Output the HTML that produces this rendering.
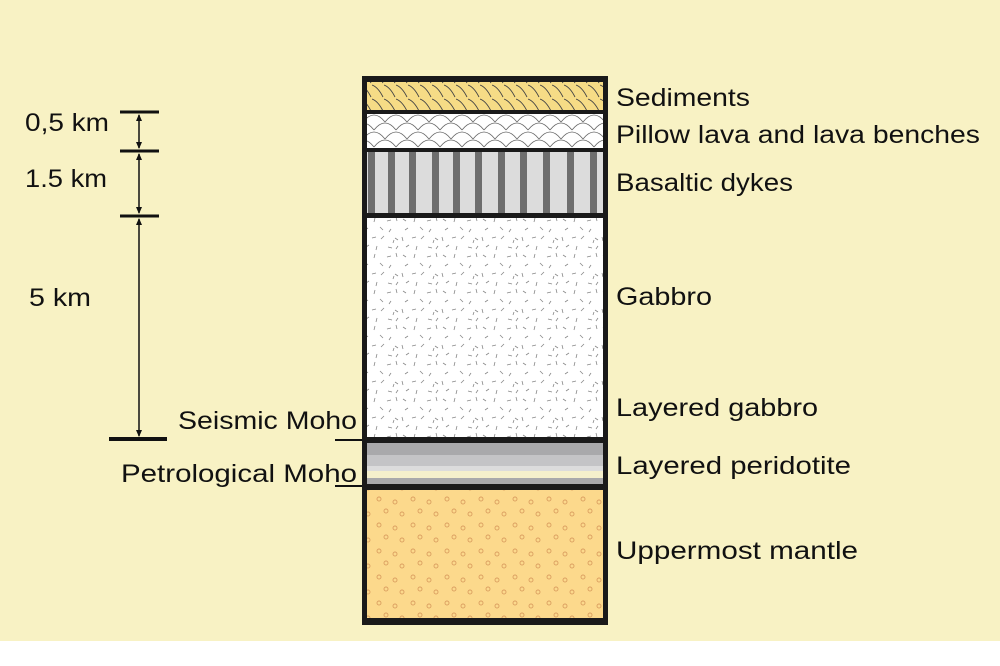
<!DOCTYPE html>
<html><head><meta charset="utf-8"><style>
html,body{margin:0;padding:0;background:#fff}
svg{display:block}
text{font-family:"Liberation Sans",sans-serif;fill:#111}
</style></head><body>
<svg width="1000" height="666" viewBox="0 0 1000 666" xmlns="http://www.w3.org/2000/svg">
<defs>
<pattern id="sed" width="12" height="14" patternUnits="userSpaceOnUse">
<rect width="12" height="14" fill="#f6dc86"/>
<path d="M0 1 Q6 3 11 13" stroke="#444" stroke-width="0.9" fill="none"/>
</pattern>
<pattern id="pil" width="22" height="17" patternUnits="userSpaceOnUse" y="114">
<rect width="22" height="17" fill="#fff"/>
<path d="M0 16 Q11 2 22 16" stroke="#666" stroke-width="0.8" fill="none"/>
<path d="M-11 8 Q0 -6 11 8 M11 8 Q22 -6 33 8" stroke="#666" stroke-width="0.8" fill="none"/>
</pattern>
<pattern id="gab" width="40" height="36" patternUnits="userSpaceOnUse">
<rect width="40" height="36" fill="#fff"/>
<g stroke="#888" stroke-width="0.8">
<path d="M3 3l3 2M15 2l-1 4M27 5l4-1M36 1l1 4M8 12l-3 2M20 11l3 3M31 13l-2 3M2 21l1 4M12 22l4-1M24 20l-3 3M35 22l3 2M6 31l3-2M17 30l-1 4M28 31l4 1M38 30l-2 3M33 27l1-3"/>
</g>
</pattern>
<pattern id="man" width="34" height="26" patternUnits="userSpaceOnUse">
<rect width="34" height="26" fill="#fcd98c"/>
<g stroke="#dba060" stroke-width="0.9" fill="none">
<circle cx="5" cy="5" r="2"/><circle cx="21" cy="8" r="2"/><circle cx="12" cy="17" r="2"/><circle cx="28" cy="20" r="2"/>
</g>
</pattern>
</defs>
<rect width="1000" height="641" fill="#f8f2c4"/>
<rect x="362" y="76" width="246" height="549" fill="#1a1a1a"/>
<rect x="367" y="82" width="236" height="28" fill="url(#sed)"/>
<rect x="367" y="114" width="236" height="34" fill="url(#pil)"/>
<rect x="367" y="152" width="236" height="61" fill="#dcdcdc"/>
<g fill="#6e6e6e">
<rect x="368" y="152" width="7" height="61"/><rect x="388" y="152" width="7" height="61"/><rect x="409" y="152" width="7" height="61"/><rect x="432" y="152" width="7" height="61"/><rect x="453" y="152" width="7" height="61"/><rect x="475" y="152" width="7" height="61"/><rect x="498" y="152" width="7" height="61"/><rect x="520" y="152" width="7" height="61"/><rect x="543" y="152" width="7" height="61"/><rect x="567" y="152" width="7" height="61"/><rect x="590" y="152" width="7" height="61"/>
</g>
<rect x="367" y="218" width="236" height="219" fill="url(#gab)"/>
<rect x="367" y="443" width="236" height="12" fill="#a9a9ab"/>
<rect x="367" y="455" width="236" height="11" fill="#c4c4c6"/>
<rect x="367" y="466" width="236" height="5" fill="#dcdcdc"/>
<rect x="367" y="471" width="236" height="7" fill="#f5f0cc"/>
<rect x="367" y="478" width="236" height="6" fill="#a9a9ab"/>
<rect x="367" y="490" width="236" height="128" fill="url(#man)"/>
<g stroke="#111">
<line x1="120" y1="112" x2="159" y2="112" stroke-width="3"/>
<line x1="120" y1="151" x2="159" y2="151" stroke-width="3"/>
<line x1="120" y1="216" x2="159" y2="216" stroke-width="3"/>
<line x1="109" y1="439" x2="167" y2="439" stroke-width="4"/>
<line x1="139" y1="115" x2="139" y2="148" stroke-width="1.5"/>
<line x1="139" y1="154" x2="139" y2="213" stroke-width="1.5"/>
<line x1="139" y1="219" x2="139" y2="436" stroke-width="1.5"/>
<line x1="335" y1="440" x2="362" y2="440" stroke-width="2"/>
<line x1="335" y1="486" x2="362" y2="486" stroke-width="2"/>
</g>
<g fill="#111">
<path d="M139 114l-3 7h6zM139 149l-3-7h6zM139 153l-3 7h6zM139 214l-3-7h6zM139 218l-3 7h6zM139 437l-3-7h6z"/>
</g>
<g font-size="25">
<text x="25" y="131" textLength="84" lengthAdjust="spacingAndGlyphs">0,5 km</text>
<text x="25" y="187" textLength="82" lengthAdjust="spacingAndGlyphs">1.5 km</text>
<text x="29" y="306" textLength="62" lengthAdjust="spacingAndGlyphs">5 km</text>
<text x="178" y="429" textLength="179" lengthAdjust="spacingAndGlyphs">Seismic Moho</text>
<text x="121" y="482" textLength="236" lengthAdjust="spacingAndGlyphs">Petrological Moho</text>
<text x="616" y="106" textLength="134" lengthAdjust="spacingAndGlyphs">Sediments</text>
<text x="616" y="143" textLength="364" lengthAdjust="spacingAndGlyphs">Pillow lava and lava benches</text>
<text x="616" y="191" textLength="177" lengthAdjust="spacingAndGlyphs">Basaltic dykes</text>
<text x="616" y="305" textLength="96" lengthAdjust="spacingAndGlyphs">Gabbro</text>
<text x="616" y="416" textLength="202" lengthAdjust="spacingAndGlyphs">Layered gabbro</text>
<text x="616" y="474" textLength="235" lengthAdjust="spacingAndGlyphs">Layered peridotite</text>
<text x="616" y="559" textLength="242" lengthAdjust="spacingAndGlyphs">Uppermost mantle</text>
</g>
</svg>
</body></html>
